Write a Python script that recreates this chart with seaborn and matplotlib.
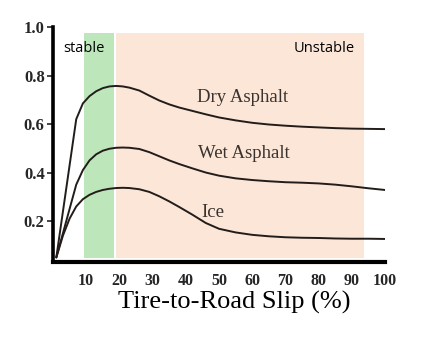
import matplotlib
matplotlib.use("Agg")
import matplotlib.pyplot as plt
import seaborn as sns
import pandas as pd

# Tire-to-road slip (%) and friction coefficient for three surfaces
slip = [1, 3, 5, 7, 9, 11, 13, 15, 17, 19, 21, 23, 26, 29, 32, 35, 38, 42, 46,
        50, 55, 60, 65, 70, 75, 80, 85, 90, 95, 100]
dry_asphalt = [0.05, 0.24, 0.43, 0.62, 0.685, 0.715, 0.735, 0.748, 0.755, 0.757,
               0.755, 0.750, 0.738, 0.717, 0.697, 0.681, 0.668, 0.654, 0.640,
               0.627, 0.615, 0.605, 0.598, 0.593, 0.589, 0.586, 0.583, 0.581,
               0.580, 0.579]
wet_asphalt = [0.05, 0.15, 0.25, 0.35, 0.41, 0.45, 0.475, 0.49, 0.498, 0.502,
               0.503, 0.502, 0.497, 0.484, 0.467, 0.450, 0.435, 0.417, 0.400,
               0.387, 0.376, 0.369, 0.364, 0.360, 0.358, 0.355, 0.350, 0.343,
               0.335, 0.328]
ice = [0.05, 0.14, 0.21, 0.26, 0.29, 0.308, 0.32, 0.328, 0.333, 0.336,
       0.337, 0.336, 0.331, 0.320, 0.302, 0.281, 0.258, 0.226, 0.192,
       0.168, 0.153, 0.143, 0.137, 0.133, 0.131, 0.130, 0.128, 0.127,
       0.127, 0.126]

surfaces = ["Dry Asphalt", "Wet Asphalt", "Ice"]
label_x = [57.2, 57.5, 48.0]
label_y = [0.711, 0.48, 0.237]

# Stability zones along the slip axis
zone_names = ["stable", "Unstable"]
zone_start = [9.3, 19.0]
zone_end = [18.4, 93.7]
zone_colors = ["#bde7ba", "#fbe6d8"]

x_ticks = [10, 20, 30, 40, 50, 60, 70, 80, 90, 100]
y_ticks = [0.2, 0.4, 0.6, 0.8, 1.0]

sns.set_style("white")
serif = ["Liberation Serif", "DejaVu Serif"]

df = pd.DataFrame({
    "slip": slip * 3,
    "mu": dry_asphalt + wet_asphalt + ice,
    "surface": [s for s in surfaces for _ in slip],
})

fig = plt.figure(figsize=(4.22, 3.40), dpi=100)
ax = fig.add_axes([53 / 422, 1 - 262 / 340, (385 - 53) / 422, (262 - 27) / 340])

y_lo, y_hi = 0.031, 1.0
ax.set_xlim(0, 100)
ax.set_ylim(y_lo, y_hi)

band_lo = (0.047 - y_lo) / (y_hi - y_lo)
band_hi = (0.975 - y_lo) / (y_hi - y_lo)
for x0, x1, c in zip(zone_start, zone_end, zone_colors):
    ax.axvspan(x0, x1, ymin=band_lo, ymax=band_hi, color=c, lw=0, zorder=0)

sns.lineplot(data=df, x="slip", y="mu", hue="surface",
             palette=["#221d1a"] * 3, legend=False, lw=1.4, ax=ax, zorder=3)

for name, lx, ly in zip(surfaces, label_x, label_y):
    ax.text(lx, ly, name, ha="center", va="center", fontsize=13.5,
            family=serif, color="#3a322e", zorder=4)

ax.text(3.0, 0.913, zone_names[0], ha="left", va="center", fontsize=10.5,
        family=["Open Sans", "DejaVu Sans"], color="black")
ax.text(91.0, 0.913, zone_names[1], ha="right", va="center", fontsize=10.5,
        family=["Open Sans", "DejaVu Sans"], color="black")

for side in ["top", "right"]:
    ax.spines[side].set_visible(False)
ax.spines["left"].set_linewidth(2.6)
ax.spines["bottom"].set_linewidth(3.0)
ax.spines["left"].set_color("black")
ax.spines["bottom"].set_color("black")

ax.set_yticks(y_ticks)
ax.set_yticklabels([f"{v:.1f}" for v in y_ticks], family=serif,
                   fontweight="bold", fontsize=12)
ax.set_xticks(x_ticks)
ax.set_xticklabels([str(v) for v in x_ticks], family=serif,
                   fontweight="bold", fontsize=11.5)
ax.tick_params(axis="y", direction="out", length=4, width=1.2, pad=2, left=True)
ax.tick_params(axis="x", length=0, pad=8)

ax.set_xlabel("")
ax.set_ylabel("")
fig.text(234 / 422, 1 - 309 / 340, "Tire-to-Road Slip (%)", ha="center",
         va="baseline", fontsize=19, family=serif, color="black")

fig.savefig("out.png", dpi=100, facecolor="white")
